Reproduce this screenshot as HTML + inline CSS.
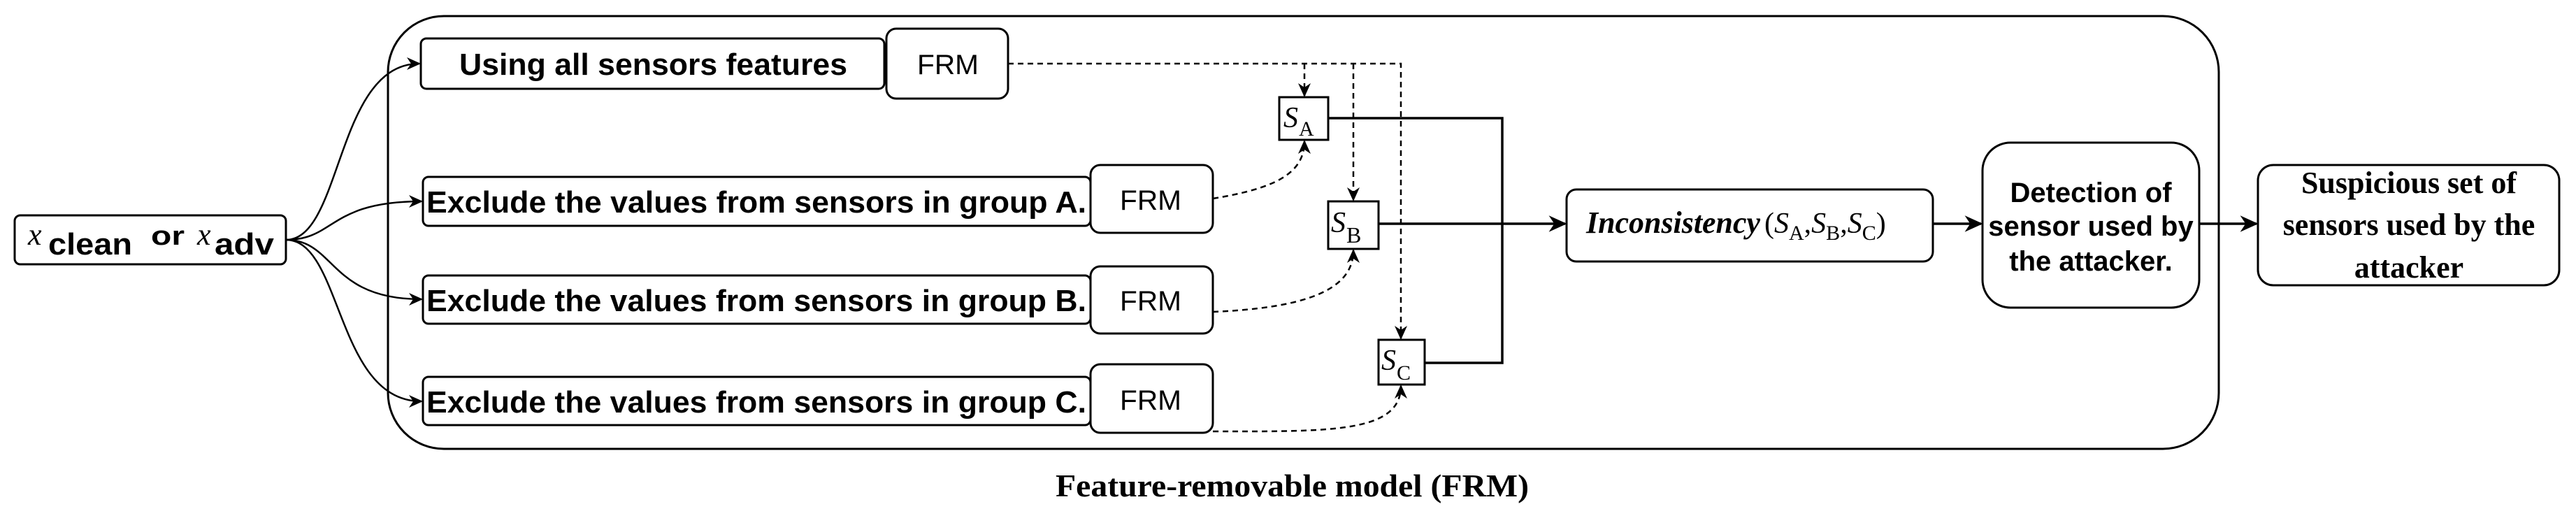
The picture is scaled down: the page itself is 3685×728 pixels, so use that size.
<!DOCTYPE html>
<html><head><meta charset="utf-8"><style>html,body{margin:0;padding:0;background:#fff}svg{display:block}</style></head>
<body>
<svg width="3685" height="728" viewBox="0 0 3685 728" xmlns="http://www.w3.org/2000/svg">
<defs>
<marker id="ar" viewBox="0 0 20 20" refX="18" refY="10" markerWidth="20" markerHeight="20" markerUnits="userSpaceOnUse" orient="auto">
<path d="M0,1 L20,10 L0,19 L6,10 Z" fill="#000"/></marker>
<marker id="ar2" viewBox="0 0 20 20" refX="18" refY="10" markerWidth="26" markerHeight="26" markerUnits="userSpaceOnUse" orient="auto">
<path d="M0,1 L20,10 L0,19 L6,10 Z" fill="#000"/></marker>
</defs>
<g fill="none" stroke="#000" stroke-width="3">
<rect x="555" y="23" width="2619" height="619" rx="80" ry="80"/>
<rect x="21" y="308" width="388" height="70" rx="8"/>
<rect x="602" y="55" width="663" height="72" rx="8"/>
<rect x="1268" y="41" width="174" height="100" rx="14"/>
<rect x="605" y="253" width="955" height="70" rx="8"/>
<rect x="1560" y="236" width="175" height="97" rx="14"/>
<rect x="605" y="394" width="955" height="69" rx="8"/>
<rect x="1560" y="381" width="175" height="96" rx="14"/>
<rect x="605" y="539" width="955" height="69" rx="8"/>
<rect x="1560" y="521" width="175" height="98" rx="14"/>
<rect x="1830" y="139" width="70" height="61"/>
<rect x="1900" y="288" width="72" height="68"/>
<rect x="1972" y="486" width="66" height="64"/>
<rect x="2241" y="271" width="524" height="103" rx="14"/>
<rect x="2836" y="204" width="310" height="236" rx="40"/>
<rect x="3230" y="236" width="431" height="172" rx="22"/>
</g>
<g fill="none" stroke="#000" stroke-width="2.5">
<path d="M409,343 C490,343 480,91 600,91" marker-end="url(#ar)"/>
<path d="M409,343 C480,343 470,288 603,288" marker-end="url(#ar)"/>
<path d="M409,343 C480,343 470,428 603,428" marker-end="url(#ar)"/>
<path d="M409,343 C490,343 480,574 603,574" marker-end="url(#ar)"/>
</g>
<g fill="none" stroke="#000" stroke-width="2.5" stroke-dasharray="8,6">
<path d="M1442,91 L2004,91 L2004,484" marker-end="url(#ar)"/>
<path d="M1866,91 L1866,137" marker-end="url(#ar)"/>
<path d="M1936,91 L1936,286" marker-end="url(#ar)"/>
<path d="M1735,284 C1820,270 1866,250 1866,202" marker-end="url(#ar)"/>
<path d="M1735,446 C1880,440 1936,410 1936,358" marker-end="url(#ar)"/>
<path d="M1735,617 C1900,617 2004,620 2004,552" marker-end="url(#ar)"/>
</g>
<g fill="none" stroke="#000" stroke-width="3.5">
<path d="M1900,169 L2149,169 L2149,519 L2038,519"/>
<path d="M1972,320 L2239,320" marker-end="url(#ar2)"/>
<path d="M2765,320 L2834,320" marker-end="url(#ar2)"/>
<path d="M3146,320 L3228,320" marker-end="url(#ar2)"/>
</g>
<g font-family="Liberation Sans, Arial, sans-serif" fill="#000">
<text x="657" y="107" font-size="44" font-weight="bold" textLength="555" lengthAdjust="spacingAndGlyphs">Using all sensors features</text>
<text x="610" y="304" font-size="44" font-weight="bold" textLength="944" lengthAdjust="spacingAndGlyphs">Exclude the values from sensors in group A.</text>
<text x="610" y="445" font-size="44" font-weight="bold" textLength="944" lengthAdjust="spacingAndGlyphs">Exclude the values from sensors in group B.</text>
<text x="610" y="590" font-size="44" font-weight="bold" textLength="944" lengthAdjust="spacingAndGlyphs">Exclude the values from sensors in group C.</text>
<text x="1312" y="106" font-size="40" textLength="88" lengthAdjust="spacingAndGlyphs">FRM</text>
<text x="1602" y="300" font-size="40" textLength="88" lengthAdjust="spacingAndGlyphs">FRM</text>
<text x="1602" y="444" font-size="40" textLength="88" lengthAdjust="spacingAndGlyphs">FRM</text>
<text x="1602" y="586" font-size="40" textLength="88" lengthAdjust="spacingAndGlyphs">FRM</text>
<g font-weight="bold" font-size="40" text-anchor="middle">
<text x="2991" y="289">Detection of</text>
<text x="2991" y="337">sensor used by</text>
<text x="2991" y="387">the attacker.</text>
</g>
<text x="69" y="364" font-size="44" font-weight="bold" textLength="120" lengthAdjust="spacingAndGlyphs">clean</text>
<text x="216" y="350" font-size="38" font-weight="bold" textLength="48" lengthAdjust="spacingAndGlyphs">or</text>
<text x="307" y="364" font-size="44" font-weight="bold" textLength="85" lengthAdjust="spacingAndGlyphs">adv</text>
</g>
<g font-family="Liberation Serif, Times New Roman, serif" fill="#000">
<text x="40" y="350" font-size="44" font-style="italic">x</text>
<text x="282" y="350" font-size="44" font-style="italic">x</text>
<text x="1836" y="182" font-size="42" font-style="italic">S</text><text x="1858" y="194" font-size="30">A</text>
<text x="1904" y="332" font-size="42" font-style="italic">S</text><text x="1926" y="347" font-size="32">B</text>
<text x="1976" y="529" font-size="42" font-style="italic">S</text><text x="1998" y="543" font-size="30">C</text>
<text x="2269" y="333" font-size="44" font-style="italic" font-weight="bold" textLength="249" lengthAdjust="spacingAndGlyphs">Inconsistency</text>
<text x="2524" y="333" font-size="42">(<tspan font-style="italic">S</tspan><tspan font-size="30" dy="10">A</tspan><tspan dy="-10">,</tspan><tspan font-style="italic">S</tspan><tspan font-size="30" dy="10">B</tspan><tspan dy="-10">,</tspan><tspan font-style="italic">S</tspan><tspan font-size="30" dy="10">C</tspan><tspan dy="-10">)</tspan></text>
<g font-weight="bold" font-size="44" text-anchor="middle">
<text x="3446" y="276">Suspicious set of</text>
<text x="3446" y="336">sensors used by the</text>
<text x="3446" y="397">attacker</text>
</g>
<text x="1510" y="710" font-size="46" font-weight="bold" textLength="677" lengthAdjust="spacingAndGlyphs">Feature-removable model (FRM)</text>
</g>
</svg>
</body></html>
